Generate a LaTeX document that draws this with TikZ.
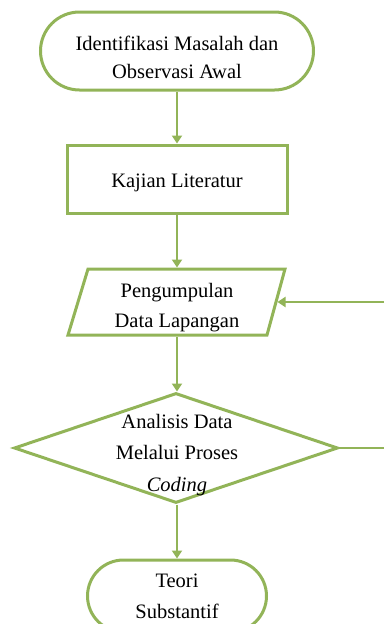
\documentclass[tikz,border=0pt]{standalone}
\usepackage{fontspec}
\setmainfont{Liberation Serif}
\usetikzlibrary{shapes.geometric,arrows.meta,calc}
\definecolor{flowgreen}{RGB}{146,180,88}
\tikzset{
  x=1pt, y=-1pt,
  shapeline/.style={draw=flowgreen, line width=3pt, inner sep=0pt, fill=white},
  flowtext/.style={align=center, inner sep=0pt, font=\fontsize{20.5}{30}\selectfont},
  flowarrow/.style={draw=flowgreen, line width=2.4pt, -{Triangle[width=10pt,length=8pt]}},
  flowline/.style={draw=flowgreen, line width=2.4pt},
}
\begin{document}
\begin{tikzpicture}
\useasboundingbox (0,0) rectangle (384,624);
% start terminal
\node[shapeline, rectangle, rounded corners=39pt, minimum width=273pt, minimum height=78pt] (t1) at (177,51) {};
\node[flowtext, font=\fontsize{20.5}{28}\selectfont] (t1txt) at (177,57) {Identifikasi Masalah dan\\Observasi Awal};
% literature review
\node[shapeline, rectangle, minimum width=220pt, minimum height=68pt] (kl) at (177,179) {};
\node[flowtext] (kltxt) at (177,183) {Kajian Literatur};
% data collection (parallelogram)
\coordinate (pdtl) at (88,269);
\coordinate (pdtr) at (285,269);
\coordinate (pdbr) at (267,335);
\coordinate (pdbl) at (68,335);
\draw[shapeline, line join=miter] (pdtl) -- (pdtr) -- (pdbr) -- (pdbl) -- cycle;
\coordinate (pdn) at (177,269);
\coordinate (pds) at (177,335);
\coordinate (pdright) at ($(pdtr)!0.5!(pdbr)$);
\node[flowtext] (pdtxt) at (177,308) {Pengumpulan\\Data Lapangan};
% analysis diamond
\node[shapeline, diamond, minimum width=324pt, minimum height=110pt] (an) at (176,448) {};
\node[flowtext, font=\fontsize{20.5}{31.5}\selectfont] (antxt) at (177,455) {Analisis Data\\Melalui Proses\\\textit{Coding}};
% end terminal
\node[shapeline, rectangle, rounded corners=36pt, minimum width=179pt, minimum height=72pt] (t2) at (177,596) {};
\node[flowtext, font=\fontsize{20.5}{31}\selectfont] (t2txt) at (177,596) {Teori\\Substantif};
% connectors
\draw[flowarrow] (t1.south) -- (kl.north);
\draw[flowarrow] (kl.south) -- ([yshift=1.5pt]pdn);
\draw[flowarrow] ([yshift=-1.5pt]pds) -- (pds |- an.north);
\draw[flowarrow] (pds |- an.south) -- (t2.north);
\coordinate (fbout) at (384,448);
\coordinate (fbin) at (384,302);
\draw[flowline] (an.east) -- (fbout);
\draw[flowarrow] (fbin) -- ([xshift=1.5pt]pdright);
\end{tikzpicture}
\end{document}
